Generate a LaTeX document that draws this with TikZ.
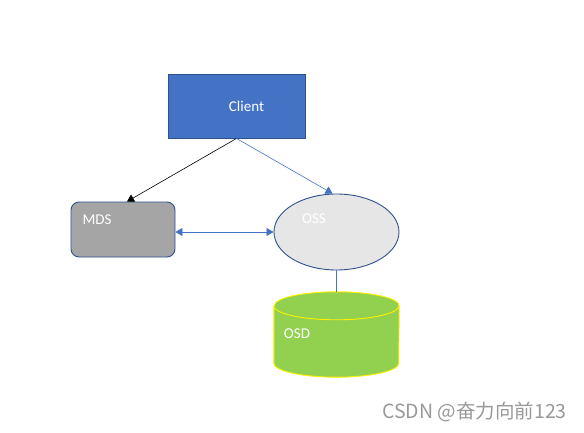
\documentclass[tikz,border=0pt]{standalone}
\usepackage{fontspec}
\setmainfont{Carlito}
\newfontfamily\cjkfont{Noto Sans CJK SC}
\usetikzlibrary{arrows.meta,calc,shapes.geometric}
\definecolor{cblue}{HTML}{4472C4}
\definecolor{cdark}{HTML}{2F528F}
\definecolor{cgray}{HTML}{A5A5A5}
\definecolor{clight}{HTML}{E6E6E6}
\definecolor{cgreen}{HTML}{92D050}
\tikzset{
  lbl/.style={text=white,font=\fontsize{15}{17}\selectfont,inner sep=0},
  tip/.style={-{Triangle[width=8pt,length=7pt]}},
  dtip/.style={{Triangle[width=8pt,length=7pt]}-{Triangle[width=8pt,length=7pt]}},
}
\begin{document}
\begin{tikzpicture}[x=1pt,y=1pt]
\useasboundingbox[fill=white] (0,0) rectangle (584,432);
\node[draw=cdark,fill=cblue,line width=0.9pt,minimum width=137,minimum height=64,inner sep=0] (client) at (236.5,326) {};
\node[lbl] (clientt) at (246.5,326) {Client};
\node[draw=cdark,fill=cgray,line width=0.9pt,rounded corners=8,minimum width=104,minimum height=55,inner sep=0] (mds) at (123,202.5) {};
\node[lbl] (mdst) at (97,212.5) {MDS};
\node[ellipse,draw=cdark,fill=clight,line width=0.9pt,minimum width=125,minimum height=76,inner sep=0] (oss) at (336.5,200) {};
\node[lbl] (osst) at (314,213.5) {OSS};
\node[minimum width=125,minimum height=85,inner sep=0] (osd) at (336.5,97.5) {};
\path[draw=yellow,fill=cgreen,line width=0.9pt]
  ($(osd.north west)+(0,-14)$) -- ($(osd.south west)+(0,14)$)
  arc[start angle=180,end angle=360,x radius=62.5,y radius=14]
  -- ($(osd.north east)+(0,-14)$)
  arc[start angle=0,end angle=180,x radius=62.5,y radius=14] -- cycle;
\draw[yellow,line width=0.9pt] ($(osd.north west)+(0,-14)$)
  arc[start angle=180,end angle=360,x radius=62.5,y radius=14];
\node[lbl] (osdt) at (297,98) {OSD};
\draw[black,line width=0.6pt,tip] (client.south) -- ($(mds.north)+(4,0)$);
\draw[cblue,line width=0.6pt,tip] (client.south) -- ($(oss.north)+(-4,0)$);
\draw[cblue,line width=0.7pt,dtip] (mds.east |- oss.west) -- (oss.west);
\draw[cblue,line width=0.8pt] (oss.south) -- (osd.north);
\node[text=black!40,font=\cjkfont\fontsize{19.5}{22}\selectfont,inner sep=0] (wm) at (474.5,20) {CSDN @奋力向前123};
\end{tikzpicture}
\end{document}
